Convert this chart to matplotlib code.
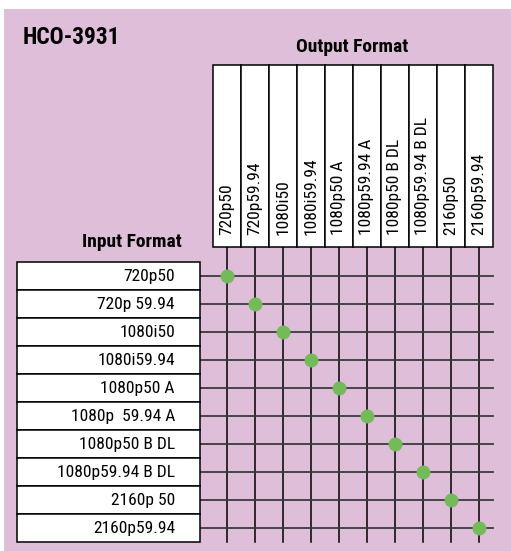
import matplotlib.pyplot as plt
from matplotlib.patches import Rectangle
from matplotlib import font_manager

title = "HCO-3931"
input_formats = ["720p50", "720p 59.94", "1080i50", "1080i59.94", "1080p50 A",
                 "1080p  59.94 A", "1080p50 B DL", "1080p59.94 B DL", "2160p 50", "2160p59.94"]
output_formats = ["720p50", "720p59.94", "1080i50", "1080i59.94", "1080p50 A",
                  "1080p59.94 A", "1080p50 B DL", "1080p59.94 B DL", "2160p50", "2160p59.94"]
# (input row, output column) pairs that are supported
supported = [(0, 0), (1, 1), (2, 2), (3, 3), (4, 4), (5, 5), (6, 6), (7, 7), (8, 8), (9, 9)]

W, H = 511, 551
cell = 28.0
x0, y0 = 227, 276  # pixel centre of first column / first row

pink = "#dfbed9"
green = "#74b95a"


def pick_font(names):
    for n in names:
        try:
            font_manager.findfont(n, fallback_to_default=False)
            return n
        except Exception:
            pass
    return "DejaVu Sans"


narrow_name = pick_font(["Liberation Sans Narrow", "Arial Narrow", "DejaVu Sans Condensed",
                         "Roboto Condensed", "Open Sans Condensed", "Roboto"])
narrow = [narrow_name, "DejaVu Sans"]

fig = plt.figure(figsize=(W / 100, H / 100), dpi=100)
fig.patch.set_facecolor("white")
bg = Rectangle((4 / W, 0), 1, (H - 9) / H, transform=fig.transFigure,
               facecolor=pink, edgecolor="none", zorder=-10)
fig.patches.append(bg)

ax = fig.add_axes([0, 0, 1, 1])
ax.set_xlim(-x0 / cell, (W - x0) / cell)
ax.set_ylim((H - y0) / cell, -y0 / cell)
ax.axis("off")
ax.patch.set_alpha(0)

nrow, ncol = len(input_formats), len(output_formats)

# grid lines
for j in range(ncol):
    ax.plot([j, j], [-1.04, nrow - 0.5], color="black", lw=1.1, zorder=1)
for i in range(nrow):
    ax.plot([-0.96, ncol - 0.5], [i, i], color="#3a3a3a", lw=1.3, zorder=1)

# input label boxes
for i, name in enumerate(input_formats):
    ax.add_patch(Rectangle((-7.5, i - 0.5), 6.54, 1, facecolor="white",
                           edgecolor="black", lw=1.1, zorder=2))
    ax.text(-1.86, i, name, ha="right", va="center", fontsize=12.6,
            family=narrow, zorder=3)

# output label boxes
for j, name in enumerate(output_formats):
    ax.add_patch(Rectangle((j - 0.5, -7.54), 1, 6.5, facecolor="white",
                           edgecolor="black", lw=1.1, zorder=2))
    ax.text(j, -1.46, name, ha="center", va="bottom", rotation=90,
            fontsize=12.6, family=narrow, zorder=3)

# supported conversions
rows = [p[0] for p in supported]
cols = [p[1] for p in supported]
ax.plot(cols, rows, "o", color=green, markersize=10, markeredgewidth=0, zorder=4)

fig.text(23 / W, 1 - 37 / H, title, ha="left", va="center", fontsize=16.8,
         fontweight="bold", family=narrow)
fig.text(352 / W, 1 - 47 / H, "Output Format", ha="center", va="center",
         fontsize=14, fontweight="bold", family=narrow)
fig.text(182 / W, 1 - 242 / H, "Input Format", ha="right", va="center",
         fontsize=14, fontweight="bold", family=narrow)

fig.savefig("out.png", dpi=100, facecolor=fig.get_facecolor())
